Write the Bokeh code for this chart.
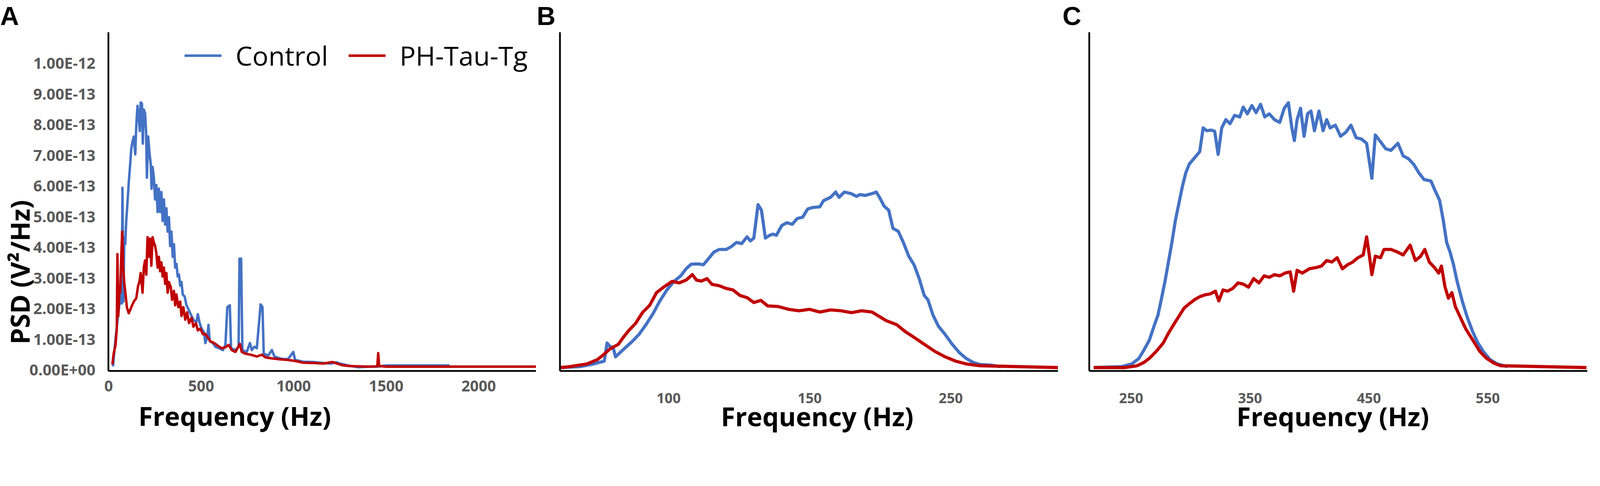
from bokeh.plotting import figure
from bokeh.layouts import row
from bokeh.models import Range1d, FixedTicker, Legend, LegendItem, Title
from bokeh.embed import file_html
from bokeh.resources import INLINE

# ---------------- data (PSD in units of 1e-13 V^2/Hz) ----------------
a_ctrl_hz = [24.0, 34.2, 44.4, 54.6, 64.7, 71.5, 74.9, 79.7, 85.1, 89.9, 95.3, 102.1, 108.8, 115.6, 122.4,
             129.2, 136.0, 144.1, 149.6, 156.3, 163.1, 168.6, 173.3, 180.1, 184.8, 190.3, 197.1, 202.5,
             207.2, 214.0, 220.8, 227.6, 232.4, 237.8, 244.6, 251.4, 258.1, 264.9, 271.7, 278.5, 285.3,
             292.1, 298.9, 305.6, 312.4, 319.2, 326.0, 332.8, 339.6, 346.4, 353.2, 359.9, 366.7, 373.5,
             380.3, 387.1, 393.9, 400.7, 410.8, 421.0, 434.6, 448.1, 461.7, 475.3, 482.1, 492.3, 502.4,
             516.0, 522.8, 533.0, 539.8, 546.5, 563.5, 577.1, 597.4, 617.8, 631.4, 641.5, 655.1, 661.9,
             685.6, 702.6, 707.4, 716.2, 723.0, 746.8, 763.7, 773.9, 787.5, 801.1, 821.4, 831.6, 838.4,
             862.1, 882.5, 896.1, 936.8, 970.7, 997.9, 1008.0, 1050.8, 1108, 1160, 1200, 1230, 1250,
             1300, 1350, 1400, 1450, 1500, 1843]
a_ctrl_psd = [0.11, 0.81, 1.40, 1.93, 2.45, 2.16, 5.93, 2.22, 4.32, 4.09, 4.85, 5.44, 6.08, 6.61, 7.19,
              7.43, 7.60, 7.02, 7.95, 8.60, 8.24, 7.78, 8.71, 8.68, 7.37, 8.48, 8.36, 7.78,
              6.26, 7.60, 7.07, 6.72, 5.90, 6.61, 6.26, 5.55, 6.02, 5.14, 5.90, 5.14, 5.79,
              4.85, 5.55, 4.73, 5.26, 4.50, 4.97, 4.03, 4.50, 3.68, 4.09, 3.33, 3.45, 3.04,
              3.10, 2.74, 2.86, 2.45, 2.39, 2.10, 1.93, 1.75, 1.60, 1.57, 1.81, 1.52, 1.34,
              1.22, 0.87, 1.05, 1.46, 0.93, 0.87, 0.75, 0.70, 0.64, 0.81, 2.04, 2.10, 0.70,
              0.64, 0.75, 3.62, 3.62, 0.64, 0.58, 0.87, 0.64, 0.75, 0.70, 2.13, 2.04, 0.52,
              0.46, 0.64, 0.43, 0.35, 0.35, 0.58, 0.32, 0.26, 0.25, 0.22, 0.20, 0.24, 0.20,
              0.13, 0.08, 0.10, 0.10, 0.14, 0.14]

a_tg_hz = [20.6, 27.4, 37.6, 44.4, 47.8, 52.5, 58.0, 62.7, 68.1, 73.6, 78.3, 85.1, 91.9, 98.7, 108.8,
           119.0, 129.2, 139.4, 149.6, 159.7, 166.5, 173.3, 183.5, 190.3, 197.1, 203.9, 210.6, 217.4,
           224.2, 231.0, 237.8, 244.6, 251.4, 258.1, 264.9, 271.7, 278.5, 285.3, 292.1, 298.9, 305.6,
           312.4, 319.2, 326.0, 336.2, 343.0, 353.2, 359.9, 366.7, 376.9, 387.1, 393.9, 404.0, 414.2,
           424.4, 434.6, 448.1, 458.3, 471.9, 482.1, 495.6, 509.2, 522.8, 536.4, 549.9, 570.3, 590.7,
           611.0, 631.4, 648.3, 665.3, 685.6, 709.4, 719.6, 740.0, 767.1, 801.1, 828.2, 848.6, 882.5,
           923.2, 963.9, 1004.6, 1050.8, 1108, 1160, 1210, 1260, 1300, 1400, 1452, 1457, 1462, 1500, 2330]
a_tg_psd = [0.17, 0.52, 0.81, 1.34, 3.77, 1.75, 2.63, 2.51, 3.62, 4.50, 3.39, 2.80, 2.45, 2.04, 1.84,
            1.98, 2.13, 2.25, 2.33, 2.74, 2.86, 3.15, 2.51, 3.33, 3.56, 3.10, 4.32, 3.68,
            4.27, 3.39, 4.32, 4.15, 4.03, 3.80, 3.33, 3.68, 3.21, 3.50, 3.04, 3.33, 2.80,
            3.15, 2.51, 2.86, 2.69, 2.28, 2.57, 2.10, 2.45, 2.04, 2.22, 1.75, 2.04, 1.63,
            1.87, 1.52, 1.69, 1.40, 1.52, 1.28, 1.34, 1.16, 1.16, 1.05, 0.93, 0.87, 0.78,
            0.70, 0.73, 0.81, 0.64, 0.58, 0.84, 0.58, 0.52, 0.49, 0.43, 0.49, 0.40, 0.37,
            0.34, 0.32, 0.29, 0.23, 0.22, 0.20, 0.25, 0.15, 0.12, 0.10, 0.11, 0.54, 0.12, 0.10, 0.10]

b_ctrl_hz = [61.8, 68.6, 73.5, 77.2, 78.2, 79.4, 80.3, 81.2, 82.8, 84.6, 87.1, 89.5, 92.0, 94.5, 96.9,
             99.4, 101.9, 104.3, 106.2, 108.0, 110.5, 112.3, 113.6, 116.0, 117.9, 120.4, 122.2, 124.1,
             125.9, 127.8, 129.0, 130.2, 131.7, 132.9, 134.3, 135.8, 137.0, 138.2, 140.1, 141.9, 143.8,
             145.6, 147.5, 149.3, 151.2, 153.6, 154.9, 157.4, 159.2, 160.4, 162.3, 164.7, 166.6, 167.8,
             169.6, 172.1, 173.6, 174.8, 176.4, 178.0, 179.5, 181.4, 183.2, 185.1, 187.0, 188.8, 190.6,
             191.9, 193.7, 195.6, 198.0, 200.5, 203.0, 205.4, 207.9, 210.4, 214.1, 217.8]
b_ctrl_psd = [0.07, 0.10, 0.19, 0.28, 0.87, 0.74, 0.74, 0.42, 0.56, 0.71, 0.92, 1.15, 1.47, 1.83, 2.24,
              2.60, 2.88, 3.06, 3.29, 3.44, 3.45, 3.42, 3.56, 3.83, 3.92, 3.92, 4.01, 4.15,
              4.11, 4.33, 4.20, 4.29, 5.38, 5.20, 4.29, 4.38, 4.42, 4.38, 4.70, 4.79, 4.74,
              4.93, 4.97, 5.24, 5.29, 5.31, 5.51, 5.62, 5.79, 5.62, 5.79, 5.74, 5.65, 5.71,
              5.68, 5.74, 5.79, 5.61, 5.33, 5.20, 4.61, 4.51, 4.15, 3.70, 3.42, 2.97, 2.42,
              2.28, 1.78, 1.42, 1.15, 0.83, 0.56, 0.37, 0.24, 0.17, 0.15, 0.10]

b_tg_hz = [61.8, 64.9, 71.1, 74.8, 77.2, 79.1, 82.2, 84.0, 85.9, 88.3, 90.8, 93.3, 95.7, 98.2, 101.3,
           103.7, 106.2, 108.4, 109.9, 111.7, 113.6, 115.4, 117.9, 120.4, 122.8, 125.3, 127.8, 130.2,
           132.7, 135.1, 138.8, 142.5, 146.2, 149.9, 153.6, 157.4, 161.1, 164.8, 168.4, 172.1, 174.6,
           177.1, 180.8, 183.9, 186.9, 190.6, 194.3, 198.0, 201.7, 205.4, 210.4, 238.0]
b_tg_psd = [0.07, 0.10, 0.19, 0.33, 0.51, 0.67, 0.83, 1.06, 1.28, 1.51, 1.87, 2.10, 2.51, 2.69, 2.88,
            2.83, 2.92, 3.10, 2.92, 2.89, 2.97, 2.78, 2.74, 2.65, 2.60, 2.42, 2.35, 2.19,
            2.26, 2.08, 2.06, 1.97, 1.92, 1.97, 1.88, 1.95, 1.92, 1.86, 1.92, 1.88, 1.74,
            1.60, 1.47, 1.24, 1.06, 0.83, 0.60, 0.42, 0.28, 0.19, 0.13, 0.07]

c_ctrl_hz = [218.5, 242.0, 250.7, 256.6, 260.9, 265.3, 269.7, 272.6, 275.6, 278.5, 281.4, 284.3, 287.3,
             290.2, 293.1, 296.0, 298.9, 301.9, 304.8, 307.7, 310.6, 313.6, 317.4, 320.3, 323.2, 326.2,
             329.7, 333.2, 337.0, 341.4, 344.3, 347.8, 351.6, 355.1, 358.9, 362.4, 366.2, 370.6, 375.0,
             378.8, 382.3, 385.2, 387.3, 389.6, 392.5, 395.5, 398.4, 401.3, 404.2, 408.0, 411.5, 414.5,
             417.4, 421.8, 426.2, 430.6, 434.9, 439.3, 443.7, 448.1, 452.5, 455.4, 459.8, 464.2, 468.6,
             474.4, 478.8, 483.2, 487.6, 492.0, 496.4, 502.2, 505.2, 509.5, 512.5, 515.4, 518.3, 521.2,
             524.2, 528.5, 532.9, 537.3, 541.7, 546.1, 551.9, 557.8, 566.6]
c_ctrl_psd = [0.07, 0.10, 0.19, 0.37, 0.65, 0.96, 1.47, 1.78, 2.33, 2.88, 3.51, 4.15, 4.88,
              5.42, 5.97, 6.42, 6.70, 6.84, 6.97, 7.11, 7.88, 7.79, 7.81, 7.77, 7.02, 7.88,
              8.15, 8.02, 8.29, 8.24, 8.56, 8.34, 8.61, 8.38, 8.65, 8.24, 8.34, 8.15, 8.06,
              8.52, 8.70, 7.88, 7.47, 8.15, 8.52, 7.61, 8.34, 8.43, 7.79, 8.43, 7.79, 8.15,
              7.88, 7.97, 7.61, 7.74, 7.97, 7.56, 7.52, 7.38, 6.24, 7.65, 7.43, 7.20, 7.15,
              7.38, 6.97, 6.88, 6.70, 6.42, 6.20, 6.15, 5.88, 5.52, 4.88, 4.15, 3.83, 3.42,
              2.88, 2.24, 1.69, 1.24, 0.87, 0.60, 0.33, 0.19, 0.10]

c_tg_hz = [218.5, 244.8, 255.1, 260.9, 265.3, 271.2, 277.0, 281.4, 285.8, 290.2, 294.6, 298.9, 303.3,
           307.7, 312.1, 316.5, 320.9, 323.8, 327.3, 331.1, 335.5, 339.9, 344.3, 348.7, 353.1, 357.5,
           361.9, 366.2, 370.6, 375.0, 379.4, 383.8, 386.7, 389.6, 394.0, 399.9, 405.7, 410.1, 414.5,
           418.9, 423.3, 427.7, 432.0, 436.4, 440.8, 445.2, 448.1, 450.5, 452.5, 455.4, 459.8, 462.7,
           468.6, 474.4, 478.8, 484.7, 489.1, 493.5, 497.0, 500.8, 505.2, 508.7, 511.0, 514.0, 516.9,
           519.8, 522.7, 527.1, 531.5, 537.3, 543.2, 549.0, 554.9, 560.7, 633.0]
c_tg_psd = [0.07, 0.07, 0.13, 0.24, 0.37, 0.60, 0.87, 1.19, 1.47, 1.74, 2.01, 2.15, 2.28,
            2.38, 2.44, 2.47, 2.56, 2.24, 2.60, 2.56, 2.65, 2.83, 2.79, 2.69, 2.97, 2.83,
            3.06, 3.01, 3.10, 3.06, 3.15, 3.19, 2.56, 3.24, 3.15, 3.29, 3.33, 3.38, 3.56,
            3.51, 3.65, 3.29, 3.42, 3.51, 3.65, 3.74, 4.33, 3.70, 3.10, 3.70, 3.65, 3.92,
            3.92, 3.83, 3.74, 4.06, 3.56, 3.70, 3.92, 3.51, 3.33, 3.15, 3.38, 2.70, 2.33,
            2.51, 2.06, 1.69, 1.33, 0.97, 0.60, 0.37, 0.22, 0.13, 0.07]

series_names = ["Control", "PH-Tau-Tg"]
psd_ticks = [0, 1, 2, 3, 4, 5, 6, 7, 8, 9, 10]
psd_tick_labels = ["0.00E+00", "1.00E-13", "2.00E-13", "3.00E-13", "4.00E-13", "5.00E-13",
                   "6.00E-13", "7.00E-13", "8.00E-13", "9.00E-13", "1.00E-12"]
a_freq_ticks = [0, 500, 1000, 1500, 2000]
b_freq_ticks = [100, 150, 200]
b_freq_tick_labels = ["100", "150", "250"]
c_freq_ticks = [250, 350, 450, 550]
panel_letters = ["A", "B", "C"]
x_title = "Frequency (Hz)"
y_title = "PSD (V\u00b2/Hz)"

# ---------------- styling ----------------
BLUE = "#4472C4"
RED = "#C00000"
TICK_COLOR = "#595959"
FONT = "Open Sans"
TOP, BOTTOM = 82, 200
FRAME_H = 867
FIG_H = TOP + FRAME_H + BOTTOM
Y_RANGE = (-0.04, 11.0)


def px(v):
    return "%.1fpx" % v


def base_fig(x_start, x_end, w, bl, br):
    p = figure(width=w, height=FIG_H, x_range=Range1d(x_start, x_end), y_range=Range1d(*Y_RANGE),
               output_backend="svg", toolbar_location=None,
               min_border_left=bl, min_border_right=br, min_border_top=TOP, min_border_bottom=BOTTOM)
    p.outline_line_color = None
    p.grid.visible = False
    p.background_fill_color = "white"
    p.border_fill_color = "white"
    for ax in (p.xaxis[0], p.yaxis[0]):
        ax.axis_line_color = "black"
        ax.axis_line_width = 4.5
        ax.major_tick_line_color = None
        ax.minor_tick_line_color = None
        ax.major_tick_out = 0
        ax.major_tick_in = 0
        ax.minor_tick_out = 0
        ax.minor_tick_in = 0
        ax.major_label_text_font = FONT
        ax.major_label_text_font_style = "bold"
        ax.major_label_text_color = TICK_COLOR
    return p


def set_letter(p, letter, offset):
    t = p.title
    t.text = letter
    t.align = "left"
    t.vertical_align = "top"
    t.offset = offset
    t.standoff = 5
    t.text_font = "Liberation Sans"
    t.text_font_style = "bold"
    t.text_font_size = px(66.6)
    t.text_color = "black"


def add_xtitle(p, offset, standoff):
    t = Title(text=x_title, align="left", vertical_align="top", offset=offset, standoff=standoff,
              text_font=FONT, text_font_style="bold", text_font_size=px(66.6), text_color="black")
    p.add_layout(t, "below")


# ---------------- panel A ----------------
pA = base_fig(-1, 2310.3, 1372, 277, 0)
rA1 = pA.line(a_ctrl_hz, a_ctrl_psd, line_color=BLUE, line_width=6.3, line_join="round")
rA2 = pA.line(a_tg_hz, a_tg_psd, line_color=RED, line_width=6.3, line_join="round")
pA.yaxis.ticker = FixedTicker(ticks=psd_ticks)
pA.yaxis.major_label_overrides = {t: s for t, s in zip(psd_ticks, psd_tick_labels)}
pA.yaxis.major_label_text_font_size = px(39.6)
pA.yaxis.major_label_standoff = 33
pA.xaxis.ticker = FixedTicker(ticks=a_freq_ticks)
pA.xaxis.major_label_text_font_size = px(38.7)
pA.xaxis.major_label_standoff = 24
set_letter(pA, panel_letters[0], -277)
add_xtitle(pA, 77, 29)
pA.add_layout(Title(text=y_title, align="left", vertical_align="top", offset=68, standoff=-51,
                    text_font=FONT, text_font_style="bold", text_font_size=px(66.6), text_color="black"),
              "left")
legend = Legend(items=[LegendItem(label=series_names[0], renderers=[rA1]),
                       LegendItem(label=series_names[1], renderers=[rA2])],
                orientation="horizontal", location=(195, 761),
                glyph_width=95, glyph_height=36, label_standoff=36, spacing=52,
                padding=0, margin=0, border_line_alpha=0, background_fill_alpha=0,
                label_text_font=FONT, label_text_font_size=px(68.4), label_text_color="black")
pA.add_layout(legend)

# ---------------- panel B ----------------
pB = base_fig(61.5, 238.0, 1342, 61, 6)
pB.line(b_ctrl_hz, b_ctrl_psd, line_color=BLUE, line_width=8.1, line_join="round")
pB.line(b_tg_hz, b_tg_psd, line_color=RED, line_width=8.1, line_join="round")
pB.yaxis.ticker = FixedTicker(ticks=[])
pB.xaxis.ticker = FixedTicker(ticks=b_freq_ticks)
pB.xaxis.major_label_overrides = {t: s for t, s in zip(b_freq_ticks, b_freq_tick_labels)}
pB.xaxis.major_label_text_font_size = px(36)
pB.xaxis.major_label_standoff = 56
set_letter(pB, panel_letters[1], -59.4)
add_xtitle(pB, 412, -29)

# ---------------- panel C ----------------
pC = base_fig(214.8, 633.7, 1366, 74, 17)
pC.line(c_ctrl_hz, c_ctrl_psd, line_color=BLUE, line_width=8.1, line_join="round")
pC.line(c_tg_hz, c_tg_psd, line_color=RED, line_width=8.1, line_join="round")
pC.yaxis.ticker = FixedTicker(ticks=[])
pC.xaxis.ticker = FixedTicker(ticks=c_freq_ticks)
pC.xaxis.major_label_text_font_size = px(36)
pC.xaxis.major_label_standoff = 56
set_letter(pC, panel_letters[2], -68.5)
add_xtitle(pC, 377, -29)

layout = row(pA, pB, pC)
open("out.html", "w").write(file_html(layout, INLINE))
